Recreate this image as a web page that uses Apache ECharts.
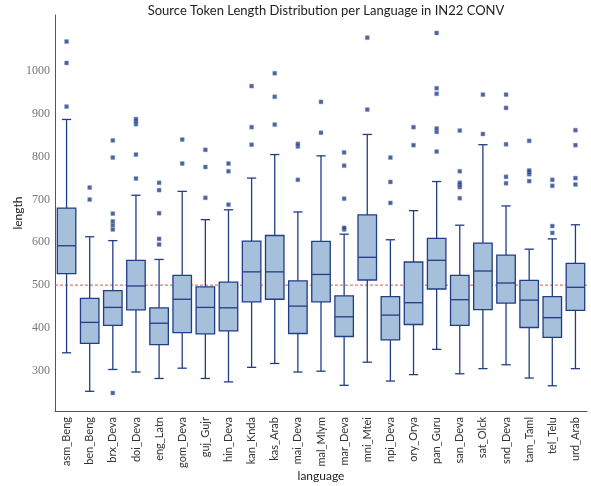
<!DOCTYPE html>
<html>
<head>
<meta charset="utf-8">
<script src="https://cdn.jsdelivr.net/npm/echarts@6/dist/echarts.min.js"></script>
<style>
  html, body { margin: 0; padding: 0; background: #fff; }
  #chart { width: 591px; height: 486px; }
</style>
</head>
<body>
<div id="chart"></div>
<script>
// languages on the x axis
var languages = ['asm_Beng', 'ben_Beng', 'brx_Deva', 'doi_Deva', 'eng_Latn', 'gom_Deva',
  'guj_Gujr', 'hin_Deva', 'kan_Knda', 'kas_Arab', 'mai_Deva', 'mal_Mlym', 'mar_Deva',
  'mni_Mtei', 'npi_Deva', 'ory_Orya', 'pan_Guru', 'san_Deva', 'sat_Olck', 'snd_Deva',
  'tam_Taml', 'tel_Telu', 'urd_Arab'];

// box stats
var whiskerLow  = [342, 252, 303, 297, 282, 306, 282, 274, 308, 317, 297, 299, 266, 320, 276, 291, 350, 293, 305, 314, 283, 265, 305];
var q1          = [527, 364, 406, 442, 361, 389, 386, 393, 461, 467, 387, 461, 380, 512, 372, 408, 491, 406, 443, 458, 401, 378, 441];
var median      = [592, 413, 448, 498, 411, 467, 448, 447, 531, 531, 451, 525, 426, 565, 430, 459, 558, 466, 533, 505, 465, 424, 495];
var q3          = [680, 469, 487, 558, 447, 523, 496, 507, 603, 616, 510, 602, 475, 664, 473, 554, 609, 523, 598, 570, 511, 473, 551];
var whiskerHigh = [887, 613, 604, 710, 560, 719, 653, 676, 750, 805, 671, 802, 619, 852, 606, 674, 742, 640, 828, 685, 584, 608, 641];

var outliers = [
  [917, 1019, 1069],
  [700, 728],
  [248, 630, 640, 649, 667, 798, 838],
  [749, 805, 876, 882, 888],
  [595, 608, 668, 722, 739],
  [784, 840],
  [704, 776, 816],
  [688, 766, 784],
  [828, 869, 965],
  [875, 940, 995],
  [746, 824, 830],
  [856, 928],
  [630, 634, 702, 779, 810],
  [910, 1078],
  [692, 741, 798],
  [827, 869],
  [812, 858, 866, 947, 960, 1089],
  [703, 729, 734, 739, 766, 861],
  [853, 945],
  [738, 753, 829, 914, 945],
  [743, 759, 763, 768, 837],
  [622, 638, 732, 746],
  [735, 750, 827, 862]
];

var yTicks = [300, 400, 500, 600, 700, 800, 900, 1000];
var refLine = [500];

var edge = '#213d86';
var fill = '#a6bfda';

var boxData = languages.map(function (l, i) {
  return [i, whiskerLow[i], q1[i], median[i], q3[i], whiskerHigh[i]];
});
var outlierData = [];
outliers.forEach(function (arr, i) {
  arr.forEach(function (v) { outlierData.push([i, v]); });
});

function renderBox(params, api) {
  var i = api.value(0);
  var bw = api.size([1, 0])[0] * 0.8;
  var cw = bw / 2;
  var pLo = api.coord([i, api.value(1)]);
  var pQ1 = api.coord([i, api.value(2)]);
  var pMed = api.coord([i, api.value(3)]);
  var pQ3 = api.coord([i, api.value(4)]);
  var pHi = api.coord([i, api.value(5)]);
  var x = pQ1[0];
  var ls = { stroke: edge, lineWidth: 1.3 };
  return {
    type: 'group',
    children: [
      { type: 'line', shape: { x1: x, y1: pQ1[1], x2: x, y2: pLo[1] }, style: ls },
      { type: 'line', shape: { x1: x, y1: pQ3[1], x2: x, y2: pHi[1] }, style: ls },
      { type: 'line', shape: { x1: x - cw / 2, y1: pLo[1], x2: x + cw / 2, y2: pLo[1] }, style: ls },
      { type: 'line', shape: { x1: x - cw / 2, y1: pHi[1], x2: x + cw / 2, y2: pHi[1] }, style: ls },
      { type: 'rect', shape: { x: x - bw / 2, y: pQ3[1], width: bw, height: pQ1[1] - pQ3[1] },
        style: { fill: fill, stroke: edge, lineWidth: 1.3 } },
      { type: 'line', shape: { x1: x - bw / 2, y1: pMed[1], x2: x + bw / 2, y2: pMed[1] }, style: ls }
    ]
  };
}

// horizontal dashed line across the whole plot
function renderRef(params, api) {
  var cs = params.coordSys;
  var y = api.coord([0, api.value(1)])[1];
  return {
    type: 'line',
    shape: { x1: cs.x, y1: y, x2: cs.x + cs.width, y2: y },
    style: { stroke: '#e05454', lineWidth: 1, lineDash: [3, 2] }
  };
}

var chart = echarts.init(document.getElementById('chart'));
chart.setOption({
  animation: false,
  title: {
    text: 'Source Token Length Distribution per Language in IN22 CONV',
    left: 321,
    textAlign: 'center',
    top: -1,
    textStyle: { fontFamily: 'Lato', fontWeight: 'normal', fontSize: 13, color: '#222' }
  },
  grid: { left: 55, right: 4, top: 15, bottom: 75, containLabel: false, outerBoundsMode: 'none' },
  xAxis: {
    type: 'category',
    data: languages,
    name: 'language',
    nameLocation: 'middle',
    nameGap: 59,
    nameMoveOverlap: false,
    nameTextStyle: { fontFamily: 'Lato', fontSize: 12, color: '#222' },
    axisLine: { lineStyle: { color: '#555', width: 1 } },
    axisTick: { show: false },
    axisLabel: { rotate: 90, interval: 0, margin: 6, fontFamily: 'Lato', fontSize: 11, color: '#333' },
    splitLine: { show: false }
  },
  yAxis: {
    type: 'value',
    min: 206,
    max: 1131,
    name: 'length',
    nameLocation: 'middle',
    nameGap: 31,
    nameMoveOverlap: false,
    nameTextStyle: { fontFamily: 'Lato', fontSize: 12, color: '#222' },
    axisLine: { show: true, lineStyle: { color: '#555', width: 1 } },
    axisTick: { show: false },
    axisLabel: {
      customValues: yTicks,
      formatter: function (v) { return String(v); },
      fontFamily: 'Liberation Serif', fontSize: 12, color: '#777', margin: 5
    },
    splitLine: { show: false }
  },
  series: [
    {
      type: 'custom',
      data: refLine.map(function (v) { return [0, v]; }),
      encode: { x: 0, y: 1 },
      renderItem: renderRef,
      silent: true,
      z: 1
    },
    {
      type: 'custom',
      data: boxData,
      encode: { x: 0, y: [1, 2, 3, 4, 5] },
      renderItem: renderBox,
      z: 2
    },
    {
      type: 'scatter',
      data: outlierData,
      symbol: 'rect',
      symbolSize: 4,
      itemStyle: { color: '#1f3a84', borderColor: '#8fa4cc', borderWidth: 0.6 },
      z: 3
    }
  ]
});
</script>
</body>
</html>
